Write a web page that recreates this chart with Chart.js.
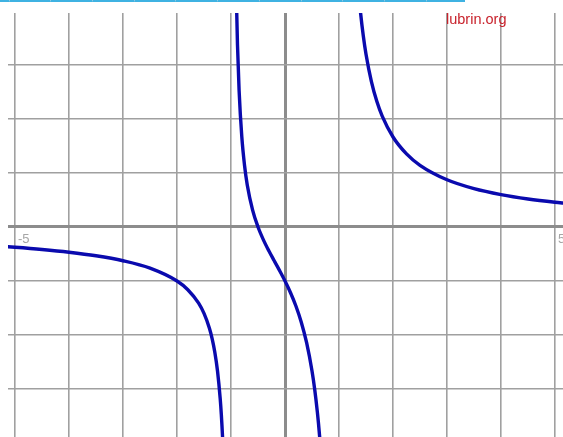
<!DOCTYPE html>
<html>
<head>
<meta charset="utf-8">
<script src="https://cdn.jsdelivr.net/npm/chart.js@4"></script>
<style>
  html, body { margin: 0; padding: 0; background: #fff; overflow: hidden; }
  body { width: 563px; height: 437px; position: relative; }
  #strip { position: absolute; left: 0; top: 0; width: 465px; height: 2px; overflow: hidden; }
  #strip .row { position: absolute; left: -32px; top: 0; display: flex; }
  #strip .cell { width: 40.7px; height: 0; border-bottom: 2px solid #3fb2e2; border-right: 1px solid #a8cfe0; }
  #wrap { position: absolute; left: 8px; top: 13px; width: 555px; height: 424px; }
  #mark { position: absolute; left: 446px; top: 12px; font: 14.5px "Liberation Sans", Arial, sans-serif;
          line-height: 1; color: #c8222c; }
</style>
</head>
<body>
<div id="strip"><div class="row">
  <div class="cell"></div><div class="cell"></div><div class="cell"></div><div class="cell"></div>
  <div class="cell"></div><div class="cell"></div><div class="cell"></div><div class="cell"></div>
  <div class="cell"></div><div class="cell"></div><div class="cell"></div><div class="cell"></div>
</div></div>
<div id="wrap"><canvas id="graph" width="555" height="424"></canvas></div>
<div id="mark">lubrin.org</div>
<script>
// branch left of the first asymptote
const leftX = [-5.2, -5, -4.5, -4, -3.5, -3, -2.5, -2, -1.8, -1.6, -1.5, -1.4, -1.35, -1.3, -1.25, -1.2, -1.18, -1.15, -1.12, -1.1];
const leftY = [-0.361, -0.375, -0.416, -0.467, -0.533, -0.625, -0.762, -1, -1.161, -1.41, -1.6, -1.875, -2.067, -2.319, -2.667, -3.182, -3.466, -4.031, -4.874, -5.714];

// middle branch
const midX = [-0.92, -0.9, -0.88, -0.85, -0.8, -0.75, -0.7, -0.6, -0.5, -0.4, -0.3, -0.2, -0.1, 0, 0.1, 0.2, 0.3, 0.4, 0.5, 0.55, 0.6, 0.62, 0.65, 0.68, 0.7];
const midY = [5.469, 4.211, 3.369, 2.523, 1.667, 1.143, 0.784, 0.3125, 0, -0.238, -0.44, -0.625, -0.808, -1, -1.212, -1.458, -1.758, -2.143, -2.667, -3.011, -3.438, -3.639, -3.983, -4.39, -4.706];

// branch right of the second asymptote
const rightX = [1.3, 1.35, 1.4, 1.45, 1.5, 1.6, 1.7, 1.8, 2, 2.25, 2.5, 3, 3.5, 4, 4.5, 5, 5.2];
const rightY = [5.217, 4.498, 3.958, 3.537, 3.2, 2.692, 2.328, 2.054, 1.667, 1.354, 1.143, 0.875, 0.711, 0.6, 0.519, 0.458, 0.438];

const xTickValues = [-5, 5];
const xTickLabels = ['-5', '5'];

const toPoints = (xs, ys) => xs.map((x, i) => ({ x: x, y: ys[i] }));

// ==========================================
//      labels sitting on the x axis
// ==========================================
const axisLabels = {
    id: 'axisLabels',
    beforeDatasetsDraw(chart) {
        const ctx = chart.ctx;
        const xs = chart.scales.x, ys = chart.scales.y;
        const y0 = ys.getPixelForValue(0);
        ctx.save();
        ctx.font = '13px "Liberation Sans", Arial, sans-serif';
        ctx.fillStyle = '#a6a6a6';
        ctx.textBaseline = 'alphabetic';
        xTickValues.forEach((v, i) => {
            ctx.fillText(xTickLabels[i], xs.getPixelForValue(v) + 3, y0 + 16);
        });
        ctx.restore();
    }
};

const lineStyle = {
    showLine: true, pointRadius: 0, borderColor: '#0a0aae', borderWidth: 3.4,
    cubicInterpolationMode: 'monotone', fill: false
};

const gridColor = c => c.tick && c.tick.value === 0 ? '#8c8c8c' : '#a0a0a0';
const gridWidth = c => c.tick && c.tick.value === 0 ? 3 : 1.6;

new Chart(document.getElementById('graph'), {
    type: 'scatter',
    data: {
        datasets: [
            Object.assign({ data: toPoints(leftX, leftY) }, lineStyle),
            Object.assign({ data: toPoints(midX, midY) }, lineStyle),
            Object.assign({ data: toPoints(rightX, rightY) }, lineStyle)
        ]
    },
    options: {
        responsive: false, animation: false, devicePixelRatio: 1,
        layout: { padding: 0 },
        plugins: { legend: { display: false }, tooltip: { enabled: false } },
        scales: {
            x: {
                type: 'linear', min: -5.13, max: 5.148,
                ticks: { display: false, stepSize: 1, includeBounds: false },
                grid: { drawTicks: false, color: gridColor, lineWidth: gridWidth },
                border: { display: false }
            },
            y: {
                type: 'linear', min: -3.889, max: 3.963,
                ticks: { display: false, stepSize: 1, includeBounds: false },
                grid: { drawTicks: false, color: gridColor, lineWidth: gridWidth },
                border: { display: false }
            }
        }
    },
    plugins: [axisLabels]
});
</script>
</body>
</html>
